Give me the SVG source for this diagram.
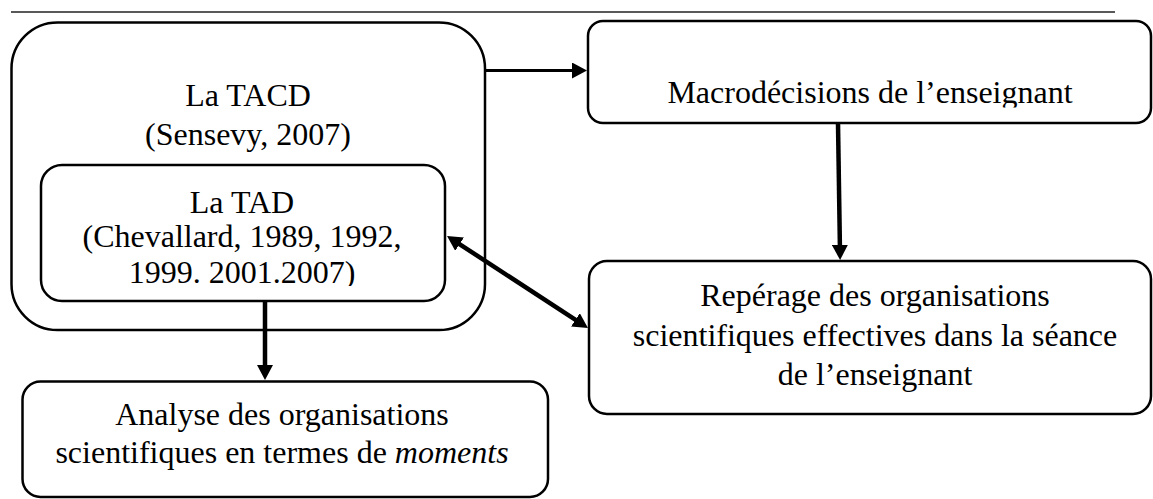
<svg xmlns="http://www.w3.org/2000/svg" width="1153" height="499" viewBox="0 0 1153 499">
  <defs>
    <style>
      .box { fill: #ffffff; stroke: #000000; stroke-width: 2.5; }
      .lbl { font-family: "Liberation Serif", "Times New Roman", serif; font-size: 32px; fill: #000000; text-anchor: middle; }
      .conn { stroke: #000000; fill: none; stroke-linecap: butt; }
    </style>
    <marker id="ah" viewBox="0 0 15 16" refX="8" refY="8" markerWidth="15" markerHeight="16" markerUnits="userSpaceOnUse" orient="auto-start-reverse">
      <path d="M0,0 L15,8 L0,16 z" fill="#000000"/>
    </marker>
    <clipPath id="clipTad"><rect x="0" y="0" width="1153" height="286"/></clipPath>
    <clipPath id="clipMacro"><rect x="0" y="0" width="1153" height="107.5"/></clipPath>
  </defs>

  <line x1="11" y1="12" x2="1115" y2="12" stroke="#222222" stroke-width="1.5"/>

  <g id="tacd">
    <rect class="box" x="11.5" y="22.5" width="473.5" height="307.5" rx="46" ry="46"/>
    <text class="lbl" x="248" y="106">La TACD</text>
    <text class="lbl" x="248" y="145">(Sensevy, 2007)</text>
  </g>

  <g id="tad">
    <rect class="box" x="41" y="165" width="404" height="136" rx="21" ry="21"/>
    <text class="lbl" x="242" y="213">La TAD</text>
    <text class="lbl" x="242" y="246.5">(Chevallard, 1989, 1992,</text>
    <text class="lbl" x="242" y="283" clip-path="url(#clipTad)">1999. 2001.2007)</text>
  </g>

  <g id="macro">
    <rect class="box" x="588" y="21" width="563" height="102" rx="15" ry="15"/>
    <text class="lbl" x="870" y="103" clip-path="url(#clipMacro)">Macrodécisions de l’enseignant</text>
  </g>

  <g id="reperage">
    <rect class="box" x="589" y="261" width="562" height="153" rx="18" ry="18"/>
    <text class="lbl" x="875" y="306">Repérage des organisations</text>
    <text class="lbl" x="875" y="346">scientifiques effectives dans la séance</text>
    <text class="lbl" x="875" y="385">de l’enseignant</text>
  </g>

  <g id="analyse">
    <rect class="box" x="22.5" y="381.5" width="525.5" height="115.5" rx="18" ry="18"/>
    <text class="lbl" x="282" y="425">Analyse des organisations</text>
    <text class="lbl" x="282" y="463">scientifiques en termes de <tspan font-style="italic">moments</tspan></text>
  </g>

  <g id="connectors">
    <line class="conn" x1="485" y1="70.5" x2="580" y2="70.5" stroke-width="3" marker-end="url(#ah)"/>
    <line class="conn" x1="838" y1="123" x2="840" y2="253" stroke-width="4.5" marker-end="url(#ah)"/>
    <line class="conn" x1="265" y1="301" x2="265" y2="373" stroke-width="4.5" marker-end="url(#ah)"/>
    <line class="conn" x1="452.9" y1="239.8" x2="582.1" y2="324.2" stroke-width="4.5" marker-start="url(#ah)" marker-end="url(#ah)"/>
  </g>
</svg>
